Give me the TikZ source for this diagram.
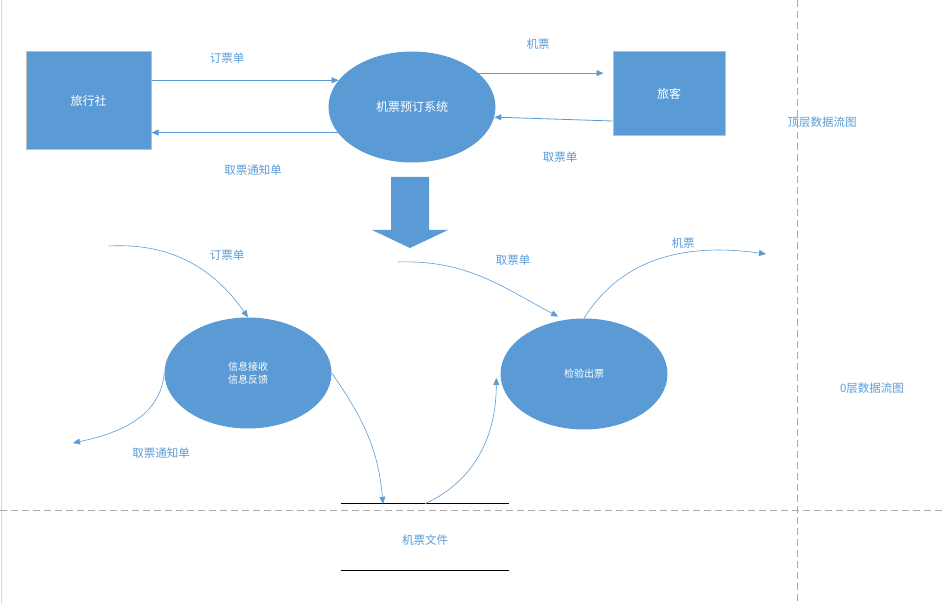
\documentclass[tikz,border=0pt]{standalone}
\usepackage{fontspec}
\newfontfamily\cjk{Noto Sans CJK SC}
\usepackage{tikz}
\usetikzlibrary{arrows.meta,positioning,shapes.geometric}
\definecolor{mainc}{HTML}{5B9BD5}
\definecolor{edgec}{HTML}{BFBFBF}
\definecolor{dvc}{HTML}{ABABAB}
\tikzset{
  ar/.style={-{Triangle[length=7pt,width=6pt]},line width=0.8pt,mainc},
  bx/.style={rectangle,draw=edgec,line width=1pt,fill=mainc,text=white,font=\cjk\fontsize{12}{14}\selectfont},
  el/.style={ellipse,fill=mainc,text=white,minimum width=167pt,minimum height=111pt,inner sep=0pt,font=\cjk\fontsize{12}{14}\selectfont},
  lb/.style={mainc,font=\cjk\fontsize{11.5}{14}\selectfont},
  dv/.style={dvc,line width=0.9pt,dash pattern=on 7pt off 4pt}
}

\begin{document}
\begin{tikzpicture}[x=1pt,y=1pt]
\useasboundingbox (0,0) rectangle (946,-604);
\draw[edgec!60,line width=1pt] (1.5,0) -- (1.5,-604);
\draw[dv] (0,-510) -- (946,-510);
\draw[dv] (797,0) -- (797,-604);
% top level
\node[bx,minimum width=125pt,minimum height=98pt] (agency) at (88.5,-101) {旅行社};
\node[el] (sys) at (412,-107) {机票预订系统};
\node[bx,minimum width=112pt,minimum height=84pt] (trav) at (669,-94) {旅客};
\draw[ar] (agency.east |- sys.160) -- (sys.160);
\draw[ar] (sys.199) -- (agency.east |- sys.199);
\draw[ar,shorten >=9pt] (sys.27) -- (trav.west |- sys.27);
\draw[ar] ([yshift=-27pt]trav.west) -- (sys.-7);
\node[lb] (l1) at (227,-58) {订票单};
\node[lb] (l2) at (253,-170) {取票通知单};
\node[lb] (l3) at (538,-44) {机票};
\node[lb] (l4) at (560,-157) {取票单};
\node[lb] (t1) at (822,-122) {顶层数据流图};
\fill[mainc] (391,-177) -- (429,-177) -- (429,-230) -- (448,-230) -- (410,-248) -- (372,-230) -- (391,-230) -- cycle;
% level 0
\node[el,font=\cjk\fontsize{10}{13}\selectfont,align=center] (rcv) at (248,-373) {信息接收\\信息反馈};
\node[el,font=\cjk\fontsize{10}{13}\selectfont] (chk) at (584,-374) {检验出票};
\node[minimum width=168pt,minimum height=66pt,inner sep=0pt,label={[lb,yshift=-3pt]center:机票文件}] (file) at (425,-537) {};
\draw[black,line width=0.9pt] (file.north west) -- (file.north east) (file.south west) -- (file.south east);
\coordinate (a) at (109,-246);
\coordinate (b) at (73,-443);
\coordinate (c) at (398,-262);
\coordinate (d) at (766,-254);
\draw[ar,line width=0.6pt] (a) to[out=3,in=125] (rcv.north);
\draw[ar,line width=0.6pt] (rcv.west) to[out=-95,in=12] (b);
\draw[ar,line width=0.6pt] (rcv.east) to[out=-55,in=95] ([xshift=-42pt]file.north);
\draw[ar,line width=0.6pt] (file.north) to[out=25,in=-90] ([xshift=-4pt,yshift=-4pt]chk.west);
\draw[ar,line width=0.6pt,shorten >=7pt] (c) to[out=2,in=152] (chk.110);
\draw[ar,line width=0.6pt] (chk.north) to[out=58,in=172] (d);
\node[lb] (l5) at (227,-255) {订票单};
\node[lb] (l6) at (161,-453) {取票通知单};
\node[lb] (l7) at (513,-260) {取票单};
\node[lb] (l8) at (683,-243) {机票};
\node[lb] (t0) at (872,-388) {0层数据流图};
\end{tikzpicture}
\end{document}
